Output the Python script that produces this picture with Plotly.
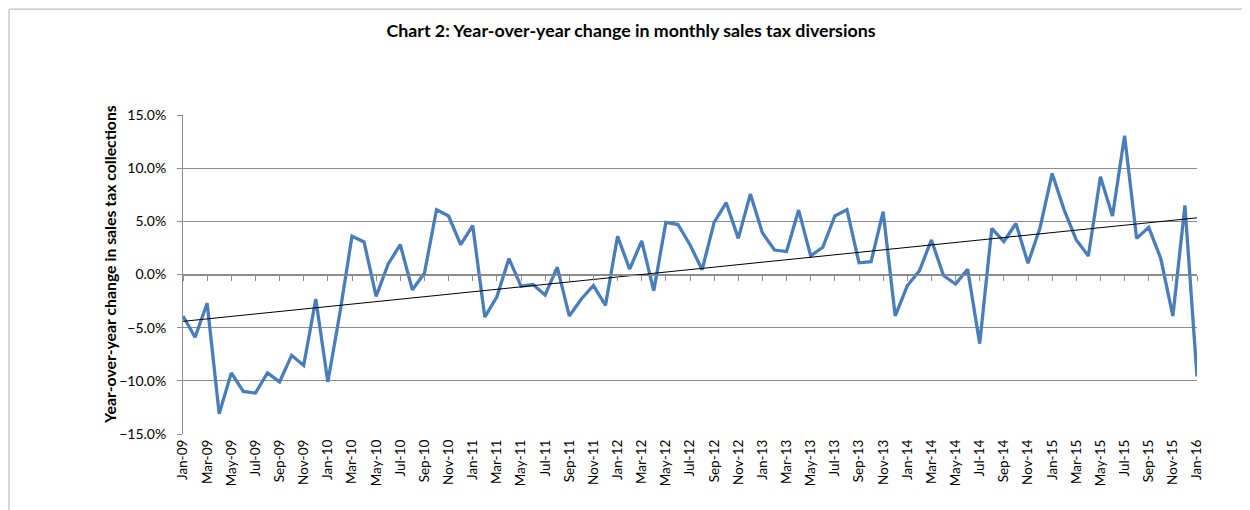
import numpy as np
import plotly.graph_objects as go

months = ["Jan", "Feb", "Mar", "Apr", "May", "Jun", "Jul", "Aug", "Sep", "Oct", "Nov", "Dec"]
categories = [f"{m}-{y:02d}" for y in range(9, 17) for m in months][:85]

yoy_change = [
    -3.9, -5.9, -2.7, -13.1, -9.25, -11.0, -11.15, -9.25, -10.1, -7.6, -8.55, -2.3,
    -10.1, -3.6, 3.6, 3.06, -2.06, 1.0, 2.8, -1.44, 0.12, 6.1, 5.5, 2.8,
    4.6, -4.0, -2.1, 1.5, -1.1, -0.94, -1.94, 0.7, -3.9, -2.3, -1.03, -2.9,
    3.6, 0.5, 3.16, -1.53, 4.9, 4.7, 2.8, 0.44, 4.9, 6.75, 3.4, 7.56,
    3.9, 2.3, 2.16, 6.06, 1.75, 2.56, 5.5, 6.1, 1.1, 1.2, 5.9, -3.9,
    -1.06, 0.34, 3.25, -0.1, -0.9, 0.5, -6.5, 4.34, 3.1, 4.8, 1.06, 4.4,
    9.5, 6.06, 3.25, 1.75, 9.2, 5.5, 13.06, 3.4, 4.44, 1.5, -3.9, 6.5,
    -9.6,
]
y_ticks = [-15, -10, -5, 0, 5, 10, 15]

title = "Chart 2: Year-over-year change in monthly sales tax diversions"
y_title = "Year-over-year change in sales tax collections"

idx = np.arange(len(yoy_change))
vals = np.array(yoy_change) / 100.0
slope, intercept = np.polyfit(idx, vals, 1)
trend = slope * idx + intercept

FONT = "Lato"
GRID = "#8c8c8c"

fig = go.Figure()
fig.add_trace(go.Scatter(
    x=categories, y=vals, mode="lines",
    line=dict(color="#4a7ebb", width=3.3),
    showlegend=False, hoverinfo="x+y",
))
fig.add_trace(go.Scatter(
    x=categories, y=trend, mode="lines",
    line=dict(color="#000000", width=1),
    showlegend=False, hoverinfo="skip",
))
# invisible trace to drive the mid-plot category axis (tick marks at 0%)
fig.add_trace(go.Scatter(
    x=categories, y=vals, mode="lines", xaxis="x2",
    line=dict(color="rgba(0,0,0,0)", width=0),
    showlegend=False, hoverinfo="skip",
))

n = len(categories)
fig.update_layout(
    width=1250, height=510,
    margin=dict(l=175, r=61, t=107, b=84),
    paper_bgcolor="white", plot_bgcolor="white",
    title=dict(text=f"<b>{title}</b>", x=0.4984, xanchor="center", y=0.955, yanchor="middle",
               font=dict(family=FONT, size=17.8, color="#000000")),
    xaxis=dict(
        type="category", range=[0, n - 1],
        tickvals=categories[::2], ticktext=categories[::2],
        tickangle=-90, tickfont=dict(family=FONT, size=13.5, color="#000000"),
        showgrid=False, zeroline=False, showline=False, ticks="",
        ticklabelstandoff=2,
    ),
    xaxis2=dict(
        type="category", range=[0, n - 1], overlaying="x", anchor="free", position=0.5,
        side="bottom", tickvals=categories[::2], showticklabels=False,
        ticks="outside", ticklen=5, tickcolor=GRID, tickwidth=1,
        showline=True, linecolor=GRID, linewidth=1, showgrid=False, zeroline=False,
    ),
    yaxis=dict(
        range=[-0.15, 0.15], tickvals=[v / 100 for v in y_ticks], tickformat=".1%",
        tickfont=dict(family=FONT, size=14, color="#000000"),
        showgrid=True, gridcolor=GRID, gridwidth=1, zeroline=False,
        showline=True, linecolor=GRID, linewidth=1, ticks="outside", ticklen=5, tickcolor=GRID,
        ticklabelstandoff=8,
    ),
    annotations=[dict(text=f"<b>{y_title}</b>", xref="paper", yref="paper",
                      x=-0.072, y=0.533, xanchor="center", yanchor="middle",
                      textangle=-90, showarrow=False,
                      font=dict(family=FONT, size=15.8, color="#000000"))],
    shapes=[dict(type="rect", xref="paper", yref="paper",
                 x0=-0.1716, x1=1.2, y0=-0.4, y1=1.332,
                 line=dict(color="#b0b0b0", width=1), fillcolor="rgba(0,0,0,0)", layer="below")],
)
fig.write_html("out.html")
